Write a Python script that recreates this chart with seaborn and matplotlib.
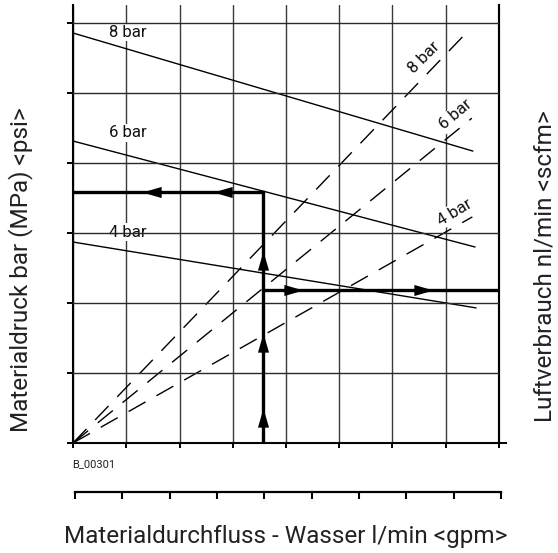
import numpy as np
import pandas as pd
import matplotlib
matplotlib.use("Agg")
import matplotlib.pyplot as plt
from matplotlib.markers import MarkerStyle
import seaborn as sns

# Grid of the nomogram (one unit = one grid cell)
flow_ticks = list(range(9))        # Materialdurchfluss, l/min scale
pressure_ticks = list(range(7))    # Materialdruck
gpm_ticks = list(range(10))        # second flow scale <gpm>

# Material pressure at a given air pressure (solid lines)
pressure_labels = ['8 bar', '6 bar', '4 bar']
pressure_flow = [[0, 7.51], [0, 7.55], [0, 7.57]]
pressure_value = [[5.857, 4.17], [4.314, 2.80], [2.871, 1.93]]

# Air consumption at a given air pressure (dashed lines)
air_labels = ['8 bar', '6 bar', '4 bar']
air_flow = [[0, 7.40], [0, 7.49], [0, 7.50]]
air_value = [[0, 5.87], [0, 4.64], [0, 3.23]]

# Worked example (thick line with arrows)
example_flow = 3.57
example_pressure = 3.586
example_air = 2.186
arrow_left_x = [1.30, 2.63]
arrow_right_x = [4.32, 6.76]
arrow_up_y = [0.50, 1.57, 2.75]

# label anchor positions
pressure_label_x = [1.03, 1.03, 1.03]
pressure_label_y = [5.87, 4.43, 3.01]
air_label_x = [6.59, 7.19, 7.17]
air_label_y = [5.51, 4.69, 3.30]
air_label_rot = [45, 40, 31]

sns.set_theme(style='white')
plt.rcParams['font.family'] = ['Roboto', 'DejaVu Sans']

W, H = 558, 553
fig = plt.figure(figsize=(W / 100, H / 100), dpi=100)
ax = fig.add_axes([73 / W, (H - 443) / H, (499 - 73) / W, (443 - 5) / H])
ax.set_xlim(0, 8)
ax.set_ylim(0, 438 / 70)

# vertical grid behind the labels, horizontal grid on top of them
ax.set_xticks(flow_ticks)
ax.set_yticks(pressure_ticks)
ax.set_xticklabels([])
ax.set_yticklabels([])
ax.set_axisbelow(True)
ax.grid(axis='x', color='#3a3a3a', lw=1.0)
ax.grid(axis='y', visible=False)
for yv in pressure_ticks:
    ax.axhline(yv, color='#2a2a2a', lw=1.0, zorder=4)

ax.tick_params(axis='both', which='major', direction='out', color='black', width=1.4)
ax.tick_params(axis='y', length=4.5, left=True)
ax.tick_params(axis='x', length=3.8, bottom=True)
for side in ['left', 'right', 'bottom']:
    ax.spines[side].set_visible(True)
    ax.spines[side].set_color('black')
    ax.spines[side].set_linewidth(1.5)
ax.spines['top'].set_visible(False)

# small tick on the right at the origin line
sec = ax.secondary_yaxis('right')
sec.set_yticks([0])
sec.set_yticklabels([])
sec.tick_params(length=5.5, width=1.4, color='black')
sec.spines['right'].set_linewidth(1.5)

# solid pressure lines
for fx, py in zip(pressure_flow, pressure_value):
    sns.lineplot(x=fx, y=py, ax=ax, color='black', lw=1.0, zorder=2)

# dashed air consumption lines
for fx, ay in zip(air_flow, air_value):
    sns.lineplot(x=fx, y=ay, ax=ax, color='black', lw=1.0, zorder=2,
                 linestyle=(0, (14, 9)))

box = dict(boxstyle='square,pad=0.08', fc='white', ec='none')
for lab, lx, ly in zip(pressure_labels, pressure_label_x, pressure_label_y):
    ax.text(lx, ly, lab, ha='center', va='center', fontsize=12,
            color='#111111', bbox=box, zorder=3)
for lab, lx, ly, rot in zip(air_labels, air_label_x, air_label_y, air_label_rot):
    ax.text(lx, ly, lab, ha='center', va='center', fontsize=12, rotation=rot,
            rotation_mode='anchor', color='#111111', bbox=box, zorder=3)

# worked example path
ax.plot([0, example_flow, example_flow], [example_pressure, example_pressure, 0],
        color='black', lw=2.4, solid_joinstyle='miter', zorder=5)
ax.plot([example_flow, 8], [example_air, example_air], color='black', lw=2.4,
        solid_capstyle='butt', zorder=5)

# arrow heads: tip sits on the data point
head = [(0, 0), (-1, 0.29), (-1, -0.29), (0, 0)]
right_head = MarkerStyle(head)
left_head = MarkerStyle([(-x, y) for x, y in head])
up_head = MarkerStyle([(y, x) for x, y in head])
sns.scatterplot(x=arrow_left_x, y=[example_pressure] * len(arrow_left_x), ax=ax,
                marker=left_head, s=760, color='black', linewidth=0, zorder=6)
sns.scatterplot(x=arrow_right_x, y=[example_air] * len(arrow_right_x), ax=ax,
                marker=right_head, s=760, color='black', linewidth=0, zorder=6)
sns.scatterplot(x=[example_flow] * len(arrow_up_y), y=arrow_up_y, ax=ax,
                marker=up_head, s=760, color='black', linewidth=0, zorder=6)
ax.set_xlim(0, 8)
ax.set_ylim(0, 438 / 70)

# second flow scale <gpm>
ax2 = fig.add_axes([75 / W, (H - 502) / H, (501 - 75) / W, 10 / H])
ax2.set_xlim(0, 9)
ax2.set_ylim(0, 1)
ax2.patch.set_alpha(0)
for side in ['left', 'right', 'bottom']:
    ax2.spines[side].set_visible(False)
ax2.spines['top'].set_visible(True)
ax2.spines['top'].set_color('black')
ax2.spines['top'].set_linewidth(1.6)
ax2.set_xticks(gpm_ticks)
ax2.set_xticklabels([])
ax2.set_yticks([])
ax2.xaxis.set_ticks_position('top')
ax2.tick_params(axis='x', direction='in', length=5, width=1.5, color='black',
                top=True, bottom=False)

label_color = '#222222'
fig.text(72 / W, 1 - 464 / H, 'B_00301', fontsize=8, ha='left', va='center',
         color=label_color)
fig.text(286 / W, 1 - 536 / H, 'Materialdurchfluss - Wasser l/min <gpm>',
         fontsize=17.5, ha='center', va='center', color=label_color)
fig.text(21 / W, 1 - 270 / H, 'Materialdruck bar (MPa) <psi>', fontsize=17.5,
         rotation=90, ha='center', va='center', color=label_color)
fig.text(545 / W, 1 - 266 / H, 'Luftverbrauch nl/min <scfm>', fontsize=17.5,
         rotation=90, ha='center', va='center', color=label_color)

fig.savefig('out.png', dpi=100)
